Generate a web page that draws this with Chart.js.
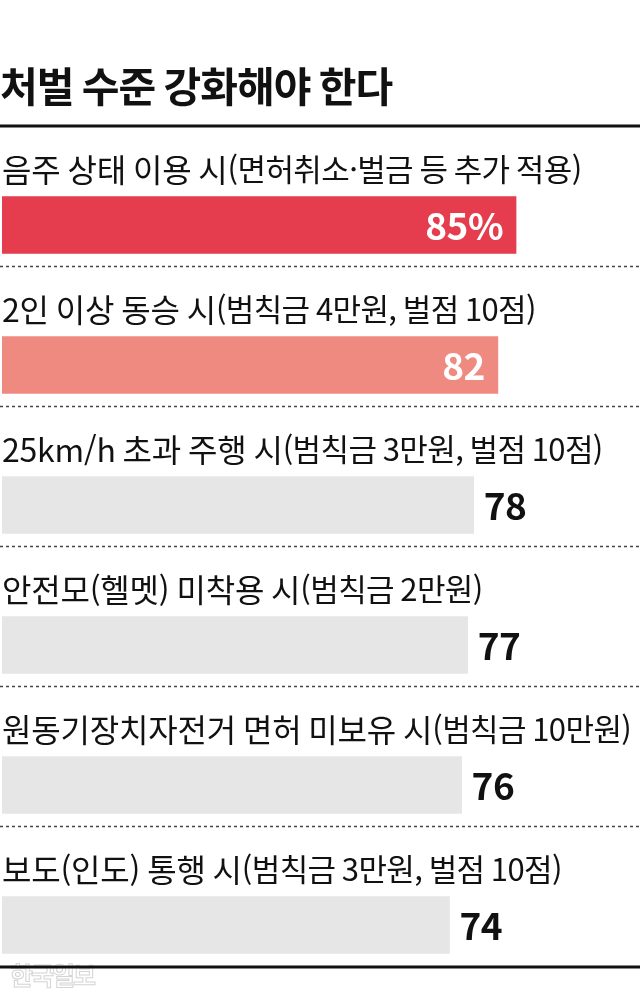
<!DOCTYPE html>
<html lang="ko">
<head>
<meta charset="utf-8">
<script src="https://cdn.jsdelivr.net/npm/chart.js@4"></script>
<style>
  html, body { margin: 0; padding: 0; background: #fff; }
  #wrap { width: 640px; height: 1001px; position: relative; }
</style>
</head>
<body>
<div id="wrap"><canvas id="chart" width="640" height="1001"></canvas></div>
<script>
const title = '처벌 수준 강화해야 한다';
const mainLabels = [
  '음주 상태 이용 시',
  '2인 이상 동승 시',
  '25km/h 초과 주행 시',
  '안전모(헬멧) 미착용 시',
  '원동기장치자전거 면허 미보유 시',
  '보도(인도) 통행 시'
];
const subLabels = [
  '(면허취소·벌금 등 추가 적용)',
  '(범칙금 4만원, 벌점 10점)',
  '(범칙금 3만원, 벌점 10점)',
  '(범칙금 2만원)',
  '(범칙금 10만원)',
  '(범칙금 3만원, 벌점 10점)'
];
const values = [85, 82, 78, 77, 76, 74];
const valueSuffix = ['%', '', '', '', '', ''];
const barColors = ['#e53d4d', '#ef8a81', '#e6e6e6', '#e6e6e6', '#e6e6e6', '#e6e6e6'];
const credit = '한국일보';

const FONT = '"Noto Sans CJK KR", "Noto Sans", sans-serif';

// labels, separators, values and title drawn around the bars
const decorPlugin = {
  id: 'decor',
  afterDatasetsDraw(chart) {
    const ctx = chart.ctx;
    const bars = chart.getDatasetMeta(0).data;
    ctx.save();

    // title + top rule
    const firstTop = bars[0].y - bars[0].height / 2;
    ctx.fillStyle = '#111';
    ctx.font = 'bold 41px ' + FONT;
    ctx.letterSpacing = '-1px';
    ctx.textBaseline = 'middle';
    ctx.textAlign = 'left';
    ctx.fillText(title, 0, firstTop - 110);
    ctx.letterSpacing = '0px';
    ctx.fillStyle = '#111';
    ctx.fillRect(0, firstTop - 72, chart.width, 3);

    bars.forEach((bar, i) => {
      const top = bar.y - bar.height / 2;
      const bottom = bar.y + bar.height / 2;

      // category label: main part + narrower note
      ctx.textAlign = 'left';
      ctx.textBaseline = 'middle';
      ctx.fillStyle = '#111';
      ctx.font = '32px ' + FONT;
      ctx.letterSpacing = '-0.2px';
      ctx.fillText(mainLabels[i], 2, top - 27);
      const w = ctx.measureText(mainLabels[i]).width;
      ctx.font = '31px ' + FONT;
      ctx.letterSpacing = '-0.6px';
      ctx.fillText(subLabels[i], 2 + w, top - 27);
      ctx.letterSpacing = '0px';

      // value
      ctx.font = 'bold 37px ' + FONT;
      ctx.letterSpacing = '-0.5px';
      const txt = values[i] + valueSuffix[i];
      if (i < 2) {
        ctx.fillStyle = '#fff';
        ctx.textAlign = 'right';
        ctx.fillText(txt, bar.x - 13, bar.y + 1);
      } else {
        ctx.fillStyle = '#111';
        ctx.textAlign = 'left';
        ctx.fillText(txt, bar.x + 10, bar.y + 1);
      }
      ctx.letterSpacing = '0px';

      // separator
      if (i < bars.length - 1) {
        ctx.strokeStyle = '#444';
        ctx.lineWidth = 1.5;
        ctx.setLineDash([3, 3]);
        ctx.beginPath();
        ctx.moveTo(0, Math.round(bottom + 12) + 0.5);
        ctx.lineTo(chart.width, Math.round(bottom + 12) + 0.5);
        ctx.stroke();
        ctx.setLineDash([]);
      } else {
        // credit under the closing rule
        ctx.font = 'bold 25px ' + FONT;
        ctx.letterSpacing = '-2px';
        ctx.textAlign = 'left';
        ctx.strokeStyle = '#d4d4d4';
        ctx.lineWidth = 1;
        ctx.strokeText(credit, 10, bottom + 22);
        ctx.letterSpacing = '0px';
        ctx.fillStyle = '#111';
        ctx.fillRect(0, bottom + 12, chart.width, 3);
      }
    });
    ctx.restore();
  }
};

new Chart(document.getElementById('chart').getContext('2d'), {
  type: 'bar',
  data: {
    labels: mainLabels,
    datasets: [{
      data: values,
      backgroundColor: barColors,
      borderWidth: 0,
      barThickness: 57
    }]
  },
  options: {
    indexAxis: 'y',
    responsive: false,
    animation: false,
    devicePixelRatio: 1,
    layout: { padding: { top: 155, bottom: 6, left: 2, right: 0 } },
    scales: {
      x: { display: false, min: 0, max: 105.5 },
      y: { display: false }
    },
    plugins: {
      legend: { display: false },
      tooltip: { enabled: false }
    }
  },
  plugins: [decorPlugin]
});
</script>
</body>
</html>
